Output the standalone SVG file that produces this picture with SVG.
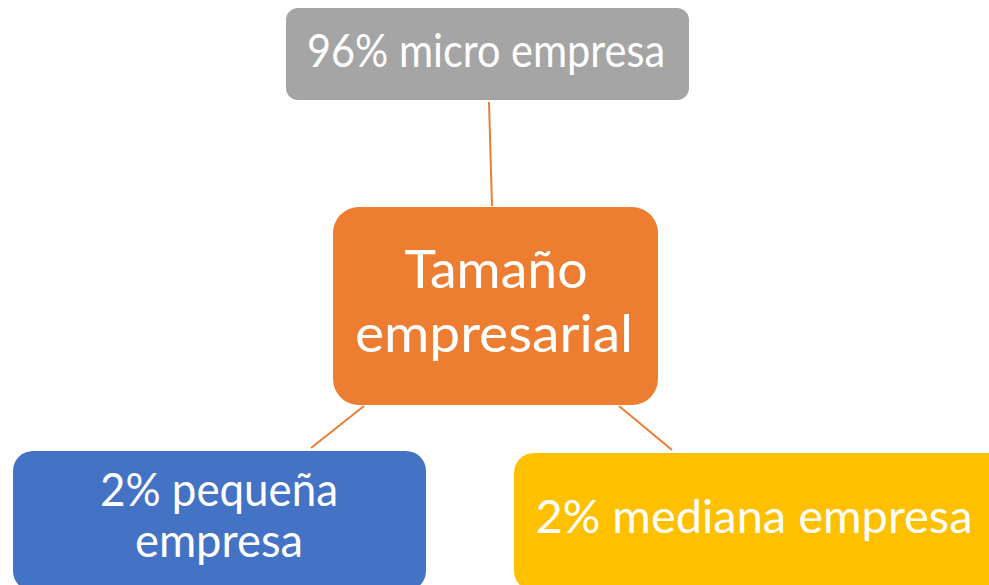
<svg xmlns="http://www.w3.org/2000/svg" width="989" height="585" viewBox="0 0 989 585">
<style>
.t{font-family:Lato,"Open Sans","Liberation Sans",sans-serif;fill:#fff;text-anchor:middle}
.s{font-size:46px}
.b{font-size:52px}
.c{stroke:#ED7D31;stroke-width:2;fill:none}
</style>
<rect width="989" height="585" fill="#fff"/>
<g id="connectors">
<line class="c" x1="489" y1="102" x2="492" y2="206"/>
<line class="c" x1="364" y1="406" x2="311" y2="448"/>
<line class="c" x1="619" y1="406" x2="672" y2="450"/>
</g>
<g id="micro">
<rect x="286" y="8" width="403" height="92" rx="12" fill="#A5A5A5"/>
<text class="t s" x="486" y="67" textLength="358" lengthAdjust="spacingAndGlyphs">96% micro empresa</text>
</g>
<g id="tamano">
<rect x="333" y="207" width="325" height="198" rx="26" fill="#ED7D31"/>
<text class="t b" x="496" y="288" textLength="183" lengthAdjust="spacingAndGlyphs">Tamaño</text>
<text class="t b" x="494" y="352" textLength="278" lengthAdjust="spacingAndGlyphs">empresarial</text>
</g>
<g id="pequena">
<rect x="13" y="451" width="413" height="140" rx="20" fill="#4472C4"/>
<text class="t s" x="219" y="506" textLength="238" lengthAdjust="spacingAndGlyphs">2% pequeña</text>
<text class="t s" x="219" y="557" textLength="168" lengthAdjust="spacingAndGlyphs">empresa</text>
</g>
<g id="mediana">
<rect x="514" y="453" width="495" height="138" rx="20" fill="#FFC000"/>
<text class="t s" x="754" y="533" textLength="437" lengthAdjust="spacingAndGlyphs">2% mediana empresa</text>
</g>
</svg>
